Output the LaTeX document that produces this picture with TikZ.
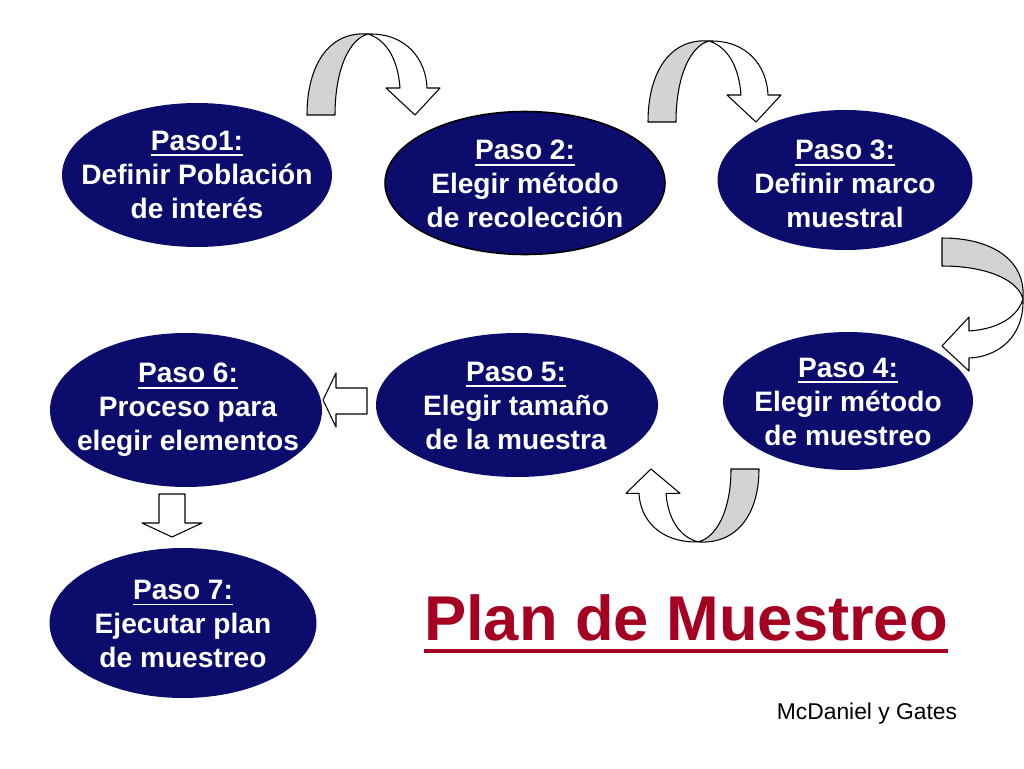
\documentclass[tikz,border=0pt]{standalone}
\usepackage{fontspec}
\setmainfont{Liberation Sans}
\usetikzlibrary{shapes.geometric}
\usepackage{xcolor}
\definecolor{pasoblue}{RGB}{12,12,108}
\definecolor{planred}{RGB}{165,0,33}
\definecolor{bandgray}{RGB}{211,211,211}
\newcommand\pasohead[1]{\setbox0\hbox{#1}\rlap{\vrule height -2.3pt depth 3.4pt width \wd0}\box0}
\tikzset{
  paso/.style={ellipse, fill=pasoblue, inner sep=0pt},
  pasotext/.style={text=white, font=\bfseries\fontsize{16}{19.4}\selectfont, align=center, inner sep=0pt},
  band/.style={draw=black, line width=0.6pt, line join=round},
  curvarrow/.pic={
    \filldraw[band, fill=bandgray] (0,0) .. controls (0,-50) and (22,-84) .. (61,-81)
      .. controls (42,-76) and (28,-45) .. (28,0) -- cycle;
    \filldraw[band, fill=white] (61,-81) .. controls (100,-82) and (119,-55) .. (120,-27)
      -- (133,-27) -- (108,0) -- (79,-27) -- (93,-27) .. controls (91,-55) and (80,-75) .. (61,-81) -- cycle;
  }
}

\begin{document}
\begin{tikzpicture}[x=0.02cm, y=-0.02cm]
\useasboundingbox[fill=white] (0,0) rectangle (1024,768);
\node[paso, minimum width=5.4cm, minimum height=2.88cm] (p1) at (197,175) {};
\node[paso, draw=black, line width=0.9pt, minimum width=5.6cm, minimum height=2.86cm] (p2) at (525,183) {};
\node[paso, minimum width=5.1cm, minimum height=2.8cm] (p3) at (845,180) {};
\node[paso, minimum width=5.0cm, minimum height=2.76cm] (p4) at (848,401) {};
\node[paso, minimum width=5.64cm, minimum height=2.88cm] (p5) at (517,405) {};
\node[paso, minimum width=5.44cm, minimum height=3.08cm] (p6) at (186,410) {};
\node[paso, minimum width=5.34cm, minimum height=3.0cm] (p7) at (183,623) {};
\node[pasotext] (t1) at (197,175) {\pasohead{Paso1:}\\Definir Población\\de interés};
\node[pasotext] (t2) at (525,184) {\pasohead{Paso 2:}\\Elegir método\\de recolección};
\node[pasotext] (t3) at (845,184) {\pasohead{Paso 3:}\\Definir marco\\muestral};
\node[pasotext] (t4) at (848,402) {\pasohead{Paso 4:}\\Elegir método\\de muestreo};
\node[pasotext] (t5) at (516,406) {\pasohead{Paso 5:}\\Elegir tamaño\\de la muestra};
\node[pasotext] (t6) at (188,410) {\pasohead{Paso 6:}\\Proceso para\\elegir elementos};
\node[pasotext] (t7) at (183,624) {\pasohead{Paso 7:}\\Ejecutar plan\\de muestreo};
\pic at (307,115) {curvarrow};
\pic at (648,122) {curvarrow};
\pic[rotate=-90] at (942,238) {curvarrow};
\pic[rotate=180, yscale=0.9] at (759,469) {curvarrow};
\filldraw[band, fill=white] (323,400) -- (336,373) -- (336,388) -- (367,388) -- (367,414) -- (336,414) -- (336,427) -- cycle;
\filldraw[band, fill=white] (159,494) -- (185,494) -- (185,523) -- (202,523) -- (172,537) -- (142,523) -- (159,523) -- cycle;
\node[text=planred, font=\bfseries\fontsize{36}{40}\selectfont, inner sep=0pt, anchor=base] (title) at (686,640) {Plan de Muestreo};
\draw[planred, line width=2.8pt] ([yshift=-0.22cm]title.base west) -- ([yshift=-0.22cm]title.base east);
\node[font=\fontsize{13}{15}\selectfont] (credit) at (867,714) {McDaniel y Gates};
\end{tikzpicture}
\end{document}
